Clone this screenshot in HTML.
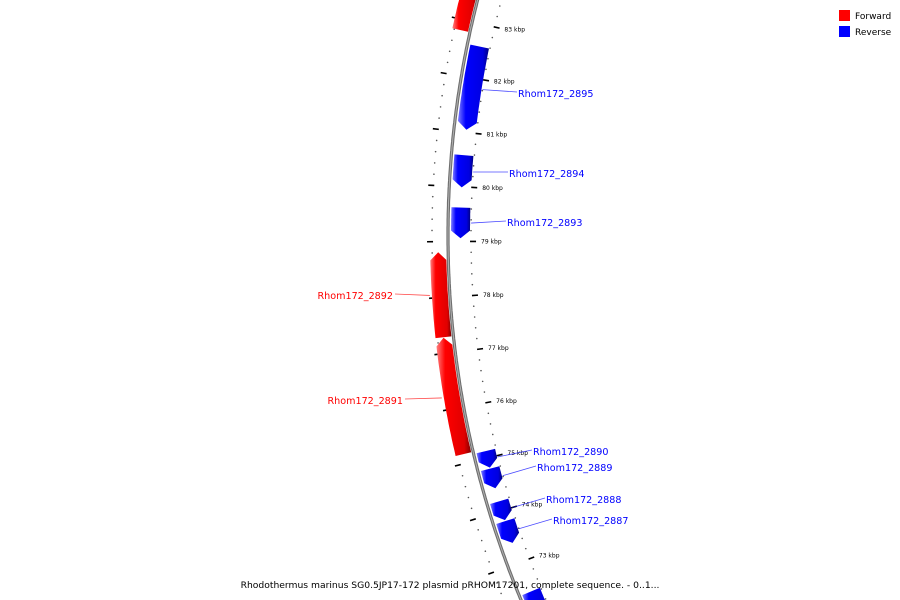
<!DOCTYPE html>
<html><head><meta charset="utf-8"><style>
html,body{margin:0;padding:0;background:#fff;width:900px;height:600px;overflow:hidden;}
svg{display:block;font-family:"DejaVu Sans","Liberation Sans",sans-serif;overflow:hidden;}
</style></head><body>
<svg id="map" width="900" height="600" viewBox="0 0 900 600" xmlns="http://www.w3.org/2000/svg">
<defs>
<linearGradient id="gr" x1="0" y1="0" x2="1" y2="0"><stop offset="0" stop-color="#ff8080"/><stop offset="0.25" stop-color="#ff0000"/><stop offset="0.8" stop-color="#e00000"/><stop offset="1" stop-color="#800000"/></linearGradient>
<linearGradient id="gb" x1="0" y1="0" x2="1" y2="0"><stop offset="0" stop-color="#8080ff"/><stop offset="0.25" stop-color="#0000ff"/><stop offset="0.8" stop-color="#0000e0"/><stop offset="1" stop-color="#000080"/></linearGradient>
</defs>
<g id="ticks"></g>
<g id="backbone"></g>
<g id="genes"></g>
<g id="labels"></g>
<g>
<rect x="839" y="10" width="11" height="11" fill="#ff0000"/>
<text x="855" y="19" font-size="9" fill="#000">Forward</text>
<rect x="839" y="26" width="11" height="11" fill="#0000ff"/>
<text x="855" y="35" font-size="9" fill="#000">Reverse</text>
</g>
<text x="450" y="588" font-size="9.2" text-anchor="middle" fill="#000">Rhodothermus marinus SG0.5JP17-172 plasmid pRHOM17201, complete sequence. - 0..1...</text>
</svg>
<script>
const geneNames = ["", "Rhom172_2895", "Rhom172_2894", "Rhom172_2893", "Rhom172_2892", "Rhom172_2891", "Rhom172_2890", "Rhom172_2889", "Rhom172_2888", "Rhom172_2887", ""];
const geneStart = [82.81, 81.05, 79.99, 79.06, 77.29, 75.17, 74.82, 74.43, 73.82, 73.38, 71.9];
const geneEnd   = [83.7, 82.59, 80.58, 79.62, 78.81, 77.28, 75.13, 74.8, 74.18, 73.8, 72.43];
const geneStrand = [1, -1, -1, -1, 1, 1, -1, -1, -1, -1, -1];
const labelX = [0, 518, 509, 507, 393, 403, 533, 537, 546, 553, 0];
const labelY = [0, 93, 173, 222, 295, 400, 451, 467, 499, 520, 0];
const tickKbp = [73, 74, 75, 76, 77, 78, 79, 80, 81, 82, 83];
const tickLabels = ["73 kbp","74 kbp","75 kbp","76 kbp","77 kbp","78 kbp","79 kbp","80 kbp","81 kbp","82 kbp","83 kbp"];

const NS="http://www.w3.org/2000/svg";
const CX=1396, CY=235, R=948, PXK=55.4;
function ang(p){ return (62-(p-78)*PXK)/R; }
function pt(p,r){ const a=ang(p); return [CX-r*Math.cos(a), CY+r*Math.sin(a)]; }
function mk(tag,parent,attrs){ const e=document.createElementNS(NS,tag); for(const k in attrs) e.setAttribute(k,attrs[k]); parent.appendChild(e); return e; }

const bb=document.getElementById('backbone');
let d=""; for(let p=71.5;p<=84.5;p+=0.05){ const q=pt(p,R); d+=(d?"L":"M")+q[0].toFixed(1)+","+q[1].toFixed(1); }
const b1=mk('path',bb,{d:d,fill:'none',stroke:'#6e6e6e','stroke-width':3.2});


const b2=mk('path',bb,{d:d,fill:'none',stroke:'#b0b0b0','stroke-width':1});



const tg=document.getElementById('ticks');
for(let i=0;i<=70;i++){
  const p=71.4+i*0.2; const major=(Math.abs(p-Math.round(p))<0.01);
  [[R-22,-1],[R+15,1]].forEach(([rr,side])=>{
    let e;
    if(major){ const a=pt(p,rr), b=pt(p,rr+6*side);
      e=mk('line',tg,{x1:a[0],y1:a[1],x2:b[0],y2:b[1],stroke:'#000','stroke-width':1.6}); }
    else { const a=pt(p,rr+(side>0?1:-1)); e=mk('circle',tg,{cx:a[0],cy:a[1],r:0.8,fill:'#555'}); }
    
    
  });
}
tickKbp.forEach((k,i)=>{
  const q=pt(k,R-33);
  const t=mk('text',tg,{x:q[0],y:q[1]+2,'font-size':6,fill:'#000'});
  t.textContent=tickLabels[i];
  
  
});

const gg=document.getElementById('genes'), lg=document.getElementById('labels');
geneStart.forEach((s,i)=>{
  const e=geneEnd[i], st=geneStrand[i];
  const ri= st>0? R+2 : R-22, ro= st>0? R+18 : R-3, rm=(ri+ro)/2;
  const ah=0.14;
  const b0= st>0? s : s+ah, b1= st>0? e-ah : e;
  const pts=[];
  for(let p=b0;p<=b1+1e-6;p+=(b1-b0)/20) pts.push(pt(p,ro));
  if(st>0) pts.push(pt(e,rm));
  for(let p=b1;p>=b0-1e-6;p-=(b1-b0)/20) pts.push(pt(p,ri));
  if(st<0) pts.push(pt(s,rm));
  const g=mk('polygon',gg,{points:pts.map(q=>q[0].toFixed(1)+","+q[1].toFixed(1)).join(" "),fill:st>0?'url(#gr)':'url(#gb)'});
  
  
  if(geneNames[i]){
    const col= st>0?'#ff0000':'#0000ff';
    const mid=(s+e)/2, a=pt(mid, st>0? R+20 : R-23);
    const lx= st>0? labelX[i]+2 : labelX[i]-1;
    const ln=mk('line',lg,{x1:a[0],y1:a[1],x2:lx,y2:labelY[i]-1,stroke:col,'stroke-width':0.8,opacity:0.7});
    
    
    const t=mk('text',lg,{x:labelX[i],y:labelY[i]+4,'font-size':9.6,fill:col,'text-anchor':st>0?'end':'start'});
    t.textContent=geneNames[i];
    
    
  }
});
</script>
</body></html>
